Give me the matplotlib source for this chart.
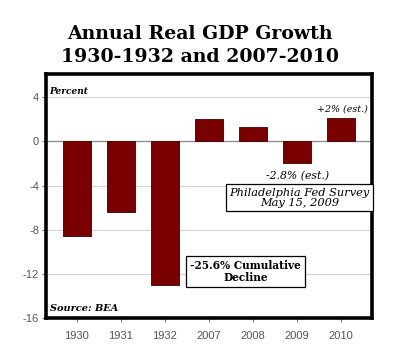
import matplotlib
matplotlib.use('Agg')
import matplotlib.pyplot as plt

# Data
years = ["1930", "1931", "1932", "2007", "2008", "2009", "2010"]
growth = [-8.6, -6.4, -13.0, 2.0, 1.3, -2.0, 2.1]
yticks = [4, 0, -4, -8, -12, -16]

bar_color = "#7a0000"
serif = ["DejaVu Serif"]

fig = plt.figure(figsize=(4.0, 3.61), dpi=100)
ax = fig.add_axes([0.115, 0.119, 0.815, 0.676])

x = list(range(len(years)))
ax.bar(x, growth, width=0.64, color=bar_color, edgecolor="#3a0000", linewidth=0.6, zorder=3)

ax.set_xlim(-0.7, len(years) - 0.3)
ax.set_ylim(-16, 6.1)
ax.set_yticks(yticks)
ax.set_yticklabels([str(v) for v in yticks])
ax.set_xticks(x)
ax.set_xticklabels(years)

for v in yticks:
    if v not in (0, -16):
        ax.axhline(v, color="#d4d4d4", lw=0.8, zorder=1)
ax.axhline(0, color="#888888", lw=0.9, zorder=2)

for s in ax.spines.values():
    s.set_linewidth(2.6)
    s.set_color("black")

ax.tick_params(axis="both", colors="#777777", labelcolor="#555555", labelsize=8,
               length=3, width=0.7, direction="out", pad=2)
ax.tick_params(axis="x", pad=6)
for lbl in ax.get_xticklabels() + ax.get_yticklabels():
    lbl.set_family("Liberation Sans")

fig.text(0.5, 0.907, "Annual Real GDP Growth", ha="center", va="center",
         fontsize=13.6, fontweight="bold", family=serif)
fig.text(0.5, 0.843, "1930-1932 and 2007-2010", ha="center", va="center",
         fontsize=13.6, fontweight="bold", family=serif)

ax.text(-0.62, 4.1, "Percent", fontsize=6.5, style="italic", fontweight="bold",
        family=serif, va="bottom", ha="left", zorder=5)
ax.text(-0.62, -15.55, "Source: BEA", fontsize=7, style="italic", fontweight="bold",
        family=serif, va="bottom", ha="left", zorder=5)

ax.text(6.02, 2.55, "+2% (est.)", fontsize=6.8, style="italic", family=serif,
        ha="center", va="bottom", zorder=5)
ax.text(5.0, -3.1, "-2.8% (est.)", fontsize=7.8, style="italic", family=serif,
        ha="center", va="center", zorder=5)

ax.text(5.06, -5.1, "Philadelphia Fed Survey\nMay 15, 2009", fontsize=8.2,
        style="italic", family=serif, ha="center", va="center", linespacing=1.0,
        zorder=6, clip_on=False,
        bbox=dict(boxstyle="square,pad=0.3", fc="white", ec="black", lw=0.9))
ax.text(3.83, -11.8, "-25.6% Cumulative\nDecline", fontsize=7.6,
        fontweight="bold", family=serif, ha="center", va="center", linespacing=1.1,
        zorder=6,
        bbox=dict(boxstyle="square,pad=0.4", fc="white", ec="black", lw=0.9))

fig.savefig("out.png", dpi=100)
